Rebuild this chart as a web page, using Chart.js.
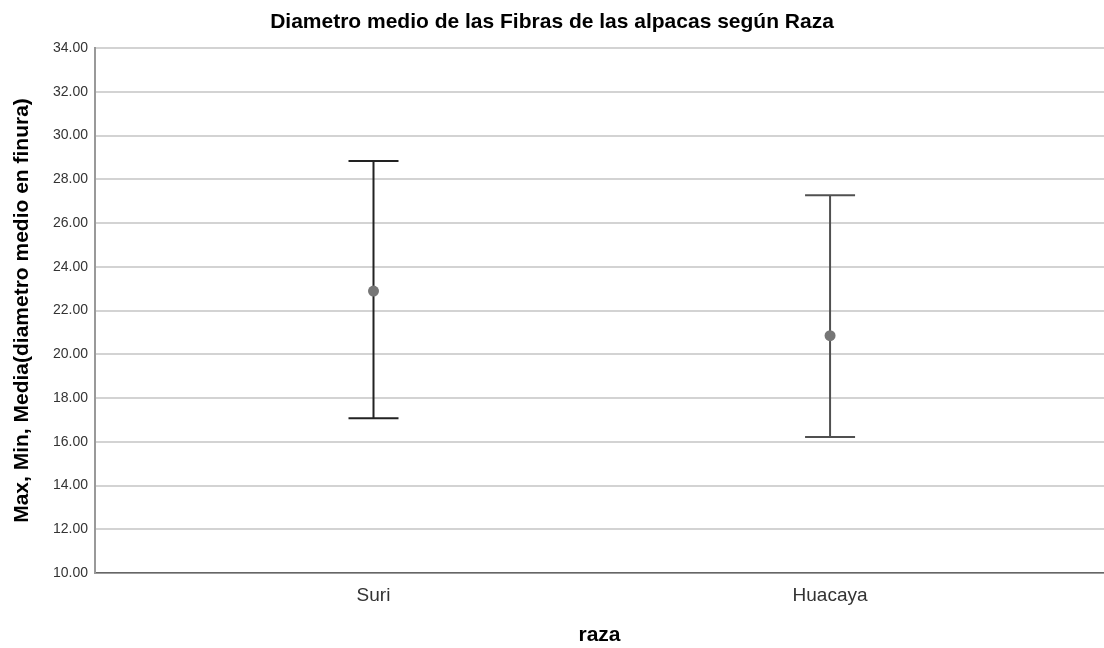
<!DOCTYPE html>
<html>
<head>
<meta charset="utf-8">
<script src="https://cdn.jsdelivr.net/npm/chart.js@4/dist/chart.umd.min.js"></script>
<style>
	body { margin: 0; background: #fff; }
	#wrap { width: 1104px; height: 648px; }
</style>
</head>
<body>
<div id="wrap"><canvas id="chart" width="1104" height="648"></canvas></div>
<script>
// Data
var categories = ['Suri', 'Huacaya'];
var maxValues = [28.83, 27.27];
var minValues = [17.08, 16.22];
var meanValues = [22.89, 20.85];
var barColors = ['#222222', '#505050'];

var FONT = '"Liberation Sans", Arial, sans-serif';

(function() {
	'use strict';

	var datasets = [];

	// Mean markers (first so they draw on top)
	datasets.push({
		label: 'Media',
		data: meanValues.map(function(v, i) { return { x: i, y: v }; }),
		showLine: false,
		pointRadius: 5.5,
		pointBackgroundColor: '#767676',
		pointBorderColor: '#767676',
		pointBorderWidth: 0
	});

	categories.forEach(function(cat, i) {
		// Caps at max / min
		datasets.push({
			label: cat + ' caps',
			data: [{ x: i, y: maxValues[i] }, { x: i, y: minValues[i] }],
			showLine: false,
			pointStyle: 'line',
			pointRadius: 25,
			pointBorderWidth: 2,
			pointBorderColor: barColors[i]
		});
		// Stem from min to max
		datasets.push({
			label: cat + ' stem',
			data: [{ x: i, y: minValues[i] }, { x: i, y: maxValues[i] }],
			showLine: true,
			borderColor: barColors[i],
			borderWidth: 2,
			pointRadius: 0
		});
	});

	new Chart(document.getElementById('chart').getContext('2d'), {
		type: 'scatter',
		data: { datasets: datasets },
		options: {
			responsive: false,
			animation: false,
			// no auto padding, the 25px caps would otherwise shrink the plot area
			layout: { padding: 0, autoPadding: false },
			plugins: {
				legend: { display: false },
				tooltip: { enabled: false },
				title: {
					display: true,
					text: 'Diametro medio de las Fibras de las alpacas según Raza',
					color: '#000',
					font: { family: FONT, size: 21, weight: 'bold', lineHeight: 1.2 },
					padding: { top: 10, bottom: 12.8 }
				}
			},
			scales: {
				x: {
					type: 'linear',
					min: -0.61,
					max: 1.6,
					grid: { display: false },
					border: { display: true, color: '#666', width: 1.5 },
					afterBuildTicks: function(scale) {
						scale.ticks = categories.map(function(c, i) { return { value: i }; });
					},
					afterFit: function(scale) {
						scale.height = 75;
					},
					ticks: {
						color: '#333',
						padding: 3,
						font: { family: FONT, size: 19 },
						callback: function(value) {
							return categories[value];
						}
					},
					title: {
						display: true,
						text: 'raza',
						color: '#000',
						font: { family: FONT, size: 21, weight: 'bold', lineHeight: 1.2 },
						padding: { top: 0, bottom: 0 }
					}
				},
				y: {
					min: 10,
					max: 34,
					grid: {
						color: '#d3d3d3',
						lineWidth: 2,
						drawTicks: false
					},
					border: { display: true, color: '#999', width: 2 },
					afterFit: function(scale) {
						scale.width = 95;
					},
					ticks: {
						stepSize: 2,
						color: '#333',
						padding: 7,
						font: { family: FONT, size: 14 },
						callback: function(value) {
							return value.toFixed(2);
						}
					},
					title: {
						display: true,
						text: 'Max, Min, Media(diametro medio en finura)',
						color: '#000',
						font: { family: FONT, size: 21, weight: 'bold', lineHeight: 1.2 },
						padding: { top: 10, bottom: 0 }
					}
				}
			}
		}
	});
})();
</script>
</body>
</html>
